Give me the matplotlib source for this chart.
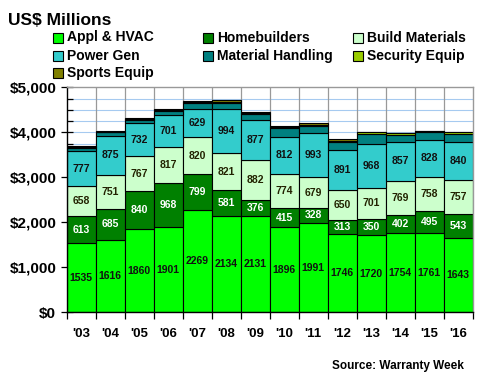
import matplotlib
matplotlib.use('Agg')
import numpy as np
import matplotlib.pyplot as plt
from matplotlib.patches import Rectangle
from matplotlib.ticker import MultipleLocator, FuncFormatter

plt.rcParams['font.family'] = ['Liberation Sans', 'DejaVu Sans']
plt.rcParams['font.weight'] = 'bold'

# Datos (millones de US$)
years = ["'03", "'04", "'05", "'06", "'07", "'08", "'09", "'10", "'11", "'12", "'13", "'14", "'15", "'16"]
appl = [1535, 1616, 1860, 1901, 2269, 2134, 2131, 1896, 1991, 1746, 1720, 1754, 1761, 1643]
home = [613, 685, 840, 968, 799, 581, 376, 415, 328, 313, 350, 402, 495, 543]
build = [658, 751, 767, 817, 820, 821, 882, 774, 679, 650, 701, 769, 758, 757]
power = [777, 875, 732, 701, 629, 994, 877, 812, 993, 891, 968, 857, 828, 840]
material = [65, 75, 80, 90, 135, 130, 140, 200, 150, 190, 230, 170, 160, 190]
security = [25, 12, 20, 20, 25, 25, 25, 20, 25, 25, 30, 30, 30, 30]
sports = [25, 10, 30, 30, 15, 45, 20, 35, 50, 45, 15, 15, 10, 15]

series = [
    ('Appl & HVAC', appl, '#00FF00', '#111111'),
    ('Homebuilders', home, '#008000', '#FFFFFF'),
    ('Build Materials', build, '#CCFFCC', '#222200'),
    ('Power Gen', power, '#33CCCC', '#111111'),
    ('Material Handling', material, '#008080', None),
    ('Security Equip', security, '#99CC00', None),
    ('Sports Equip', sports, '#808000', None),
]

fig = plt.figure(figsize=(4.8, 3.8), dpi=100)
ax = fig.add_axes([0.139, 0.178, 0.846, 0.592])

x = np.arange(len(years))
bottom = np.zeros(len(years))
for name, vals, color, txtcolor in series:
    vals = np.array(vals, dtype=float)
    ax.bar(x, vals, bottom=bottom, width=1.0, color=color, edgecolor='black',
           linewidth=0.8, zorder=2)
    if txtcolor is not None:
        for xi, b, v in zip(x, bottom, vals):
            ax.text(xi, b + v / 2, f'{int(v)}', ha='center', va='center',
                    fontsize=7.5, fontweight='bold', color=txtcolor, zorder=3)
    bottom += vals

ax.set_xlim(-0.5, len(years) - 0.5)
ax.set_ylim(0, 5000)

# Rejilla
for yy in np.arange(250, 5000, 250):
    ax.axhline(yy, color='#A6CAF0', linewidth=0.8, zorder=0)
for xb in np.arange(0.5, len(years) - 0.5, 1):
    ax.axvline(xb, color='#999999', linewidth=0.9, zorder=1)

ax.spines['top'].set_color('#999999')
ax.spines['right'].set_color('#999999')
ax.spines['top'].set_linewidth(1.0)
ax.spines['right'].set_linewidth(1.0)
ax.spines['left'].set_linewidth(1.0)
ax.spines['bottom'].set_linewidth(1.0)

# Ejes
ax.set_xticks(x)
ax.set_xticklabels(years, fontsize=9.5, fontweight='bold')
ax.set_xticks(np.arange(-0.5, len(years), 1), minor=True)
ax.tick_params(axis='x', which='major', length=0, pad=11)
ax.tick_params(axis='x', which='minor', length=5, width=0.9, direction='out')

ax.yaxis.set_major_locator(MultipleLocator(1000))
ax.yaxis.set_minor_locator(MultipleLocator(250))
ax.yaxis.set_major_formatter(FuncFormatter(lambda v, p: f'${int(v):,}'))
ax.tick_params(axis='y', which='major', length=9, width=0.9, direction='inout', labelsize=11, pad=3)
ax.tick_params(axis='y', which='minor', length=4, width=0.9, direction='in')
for lab in ax.get_yticklabels():
    lab.set_fontweight('bold')

# Titulo y fuente
fig.text(0.017, 0.965, 'US$ Millions', fontsize=12.5, fontweight='bold', va='top', ha='left')
fig.text(0.967, 0.022, 'Source: Warranty Week', fontsize=8.5, fontweight='bold', ha='right', va='bottom')

# Leyenda manual en 3 columnas
col_x = [53, 203, 353]
row_y = [37.5, 56, 73]
W, H = 480.0, 380.0
for i, (name, vals, color, _) in enumerate(series):
    r, c = divmod(i, 3)
    px, py = col_x[c], row_y[r]
    fig.patches.append(Rectangle((px / W, 1 - (py + 5) / H), 10 / W, 10 / H,
                                 transform=fig.transFigure, facecolor=color,
                                 edgecolor='black', linewidth=0.8))
    fig.text((px + 14) / W, 1 - py / H, name, fontsize=10, fontweight='bold',
             va='center', ha='left')

fig.savefig('out.png', dpi=100)
